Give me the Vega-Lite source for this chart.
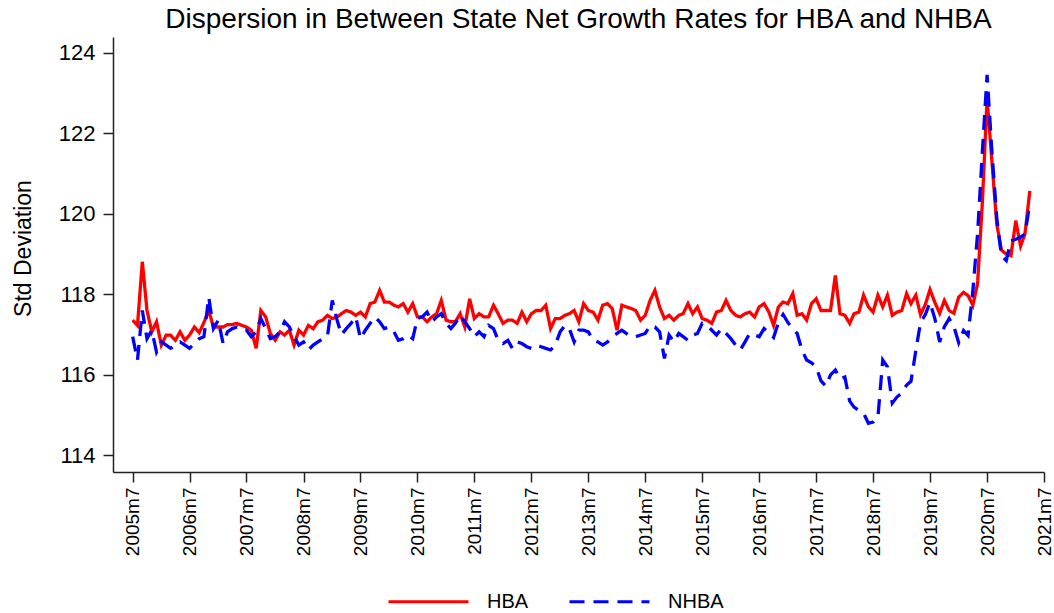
{
  "$schema": "https://vega.github.io/schema/vega-lite/v6.json",
  "width": 931,
  "height": 435,
  "autosize": {"type": "none"},
  "padding": {"left": 113, "top": 37, "right": 10, "bottom": 141},
  "background": "white",
  "config": {
    "font": "Liberation Sans",
    "view": {"stroke": null},
    "axis": {"grid": false, "domainColor": "#222", "tickColor": "#222", "domainWidth": 1.5, "tickWidth": 1.5, "labelColor": "black", "titleColor": "black"}
  },
  "title": {"text": "Dispersion in Between State Net Growth Rates for HBA and NHBA", "fontSize": 28, "fontWeight": "normal", "color": "black", "frame": "group", "anchor": "middle", "offset": 3},
  "data": {"values": [
    {"date":"2005-07","HBA":117.36,"NHBA":116.95},
    {"date":"2005-08","HBA":117.23,"NHBA":116.37},
    {"date":"2005-09","HBA":118.81,"NHBA":117.6},
    {"date":"2005-10","HBA":117.6,"NHBA":116.9},
    {"date":"2005-11","HBA":117.07,"NHBA":117.11},
    {"date":"2005-12","HBA":117.32,"NHBA":116.57},
    {"date":"2006-01","HBA":116.74,"NHBA":116.82},
    {"date":"2006-02","HBA":116.99,"NHBA":116.74},
    {"date":"2006-03","HBA":116.99,"NHBA":116.66},
    {"date":"2006-04","HBA":116.86,"NHBA":116.74},
    {"date":"2006-05","HBA":117.07,"NHBA":116.82},
    {"date":"2006-06","HBA":116.86,"NHBA":116.74},
    {"date":"2006-07","HBA":116.99,"NHBA":116.66},
    {"date":"2006-08","HBA":117.19,"NHBA":116.78},
    {"date":"2006-09","HBA":117.05,"NHBA":116.9},
    {"date":"2006-10","HBA":117.3,"NHBA":116.95},
    {"date":"2006-11","HBA":117.6,"NHBA":117.93},
    {"date":"2006-12","HBA":117.19,"NHBA":117.15},
    {"date":"2007-01","HBA":117.19,"NHBA":117.36},
    {"date":"2007-02","HBA":117.19,"NHBA":116.78},
    {"date":"2007-03","HBA":117.25,"NHBA":117.07},
    {"date":"2007-04","HBA":117.25,"NHBA":117.15},
    {"date":"2007-05","HBA":117.28,"NHBA":117.19},
    {"date":"2007-06","HBA":117.23,"NHBA":117.11},
    {"date":"2007-07","HBA":117.19,"NHBA":117.11},
    {"date":"2007-08","HBA":117.11,"NHBA":116.95},
    {"date":"2007-09","HBA":116.66,"NHBA":117.07},
    {"date":"2007-10","HBA":117.6,"NHBA":117.4},
    {"date":"2007-11","HBA":117.44,"NHBA":117.15},
    {"date":"2007-12","HBA":117.03,"NHBA":116.9},
    {"date":"2008-01","HBA":116.86,"NHBA":116.95},
    {"date":"2008-02","HBA":117.07,"NHBA":117.07},
    {"date":"2008-03","HBA":116.99,"NHBA":117.32},
    {"date":"2008-04","HBA":117.11,"NHBA":117.19},
    {"date":"2008-05","HBA":116.74,"NHBA":116.95},
    {"date":"2008-06","HBA":117.11,"NHBA":116.74},
    {"date":"2008-07","HBA":116.99,"NHBA":116.82},
    {"date":"2008-08","HBA":117.23,"NHBA":116.62},
    {"date":"2008-09","HBA":117.15,"NHBA":116.74},
    {"date":"2008-10","HBA":117.32,"NHBA":116.82},
    {"date":"2008-11","HBA":117.36,"NHBA":116.9},
    {"date":"2008-12","HBA":117.48,"NHBA":116.95},
    {"date":"2009-01","HBA":117.4,"NHBA":117.85},
    {"date":"2009-02","HBA":117.44,"NHBA":117.36},
    {"date":"2009-03","HBA":117.52,"NHBA":117.0},
    {"date":"2009-04","HBA":117.6,"NHBA":117.15},
    {"date":"2009-05","HBA":117.56,"NHBA":117.28},
    {"date":"2009-06","HBA":117.48,"NHBA":117.44},
    {"date":"2009-07","HBA":117.56,"NHBA":116.9},
    {"date":"2009-08","HBA":117.44,"NHBA":117.11},
    {"date":"2009-09","HBA":117.77,"NHBA":117.28},
    {"date":"2009-10","HBA":117.81,"NHBA":117.44},
    {"date":"2009-11","HBA":118.1,"NHBA":117.32},
    {"date":"2009-12","HBA":117.81,"NHBA":117.15},
    {"date":"2010-01","HBA":117.81,"NHBA":117.19},
    {"date":"2010-02","HBA":117.73,"NHBA":117.07},
    {"date":"2010-03","HBA":117.69,"NHBA":116.86},
    {"date":"2010-04","HBA":117.77,"NHBA":116.9},
    {"date":"2010-05","HBA":117.56,"NHBA":116.99},
    {"date":"2010-06","HBA":117.77,"NHBA":116.9},
    {"date":"2010-07","HBA":117.44,"NHBA":117.4},
    {"date":"2010-08","HBA":117.44,"NHBA":117.44},
    {"date":"2010-09","HBA":117.32,"NHBA":117.56},
    {"date":"2010-10","HBA":117.44,"NHBA":117.32},
    {"date":"2010-11","HBA":117.52,"NHBA":117.44},
    {"date":"2010-12","HBA":117.85,"NHBA":117.52},
    {"date":"2011-01","HBA":117.36,"NHBA":117.28},
    {"date":"2011-02","HBA":117.32,"NHBA":117.15},
    {"date":"2011-03","HBA":117.32,"NHBA":117.28},
    {"date":"2011-04","HBA":117.52,"NHBA":117.48},
    {"date":"2011-05","HBA":117.19,"NHBA":117.32},
    {"date":"2011-06","HBA":117.89,"NHBA":117.15},
    {"date":"2011-07","HBA":117.4,"NHBA":116.95},
    {"date":"2011-08","HBA":117.52,"NHBA":117.07},
    {"date":"2011-09","HBA":117.44,"NHBA":116.95},
    {"date":"2011-10","HBA":117.44,"NHBA":117.23},
    {"date":"2011-11","HBA":117.73,"NHBA":117.15},
    {"date":"2011-12","HBA":117.52,"NHBA":116.86},
    {"date":"2012-01","HBA":117.28,"NHBA":116.78},
    {"date":"2012-02","HBA":117.36,"NHBA":116.86},
    {"date":"2012-03","HBA":117.36,"NHBA":116.66},
    {"date":"2012-04","HBA":117.28,"NHBA":116.82},
    {"date":"2012-05","HBA":117.56,"NHBA":116.78},
    {"date":"2012-06","HBA":117.32,"NHBA":116.7},
    {"date":"2012-07","HBA":117.52,"NHBA":116.66},
    {"date":"2012-08","HBA":117.6,"NHBA":116.74},
    {"date":"2012-09","HBA":117.6,"NHBA":116.7},
    {"date":"2012-10","HBA":117.73,"NHBA":116.66},
    {"date":"2012-11","HBA":117.15,"NHBA":116.62},
    {"date":"2012-12","HBA":117.4,"NHBA":116.74},
    {"date":"2013-01","HBA":117.4,"NHBA":117.07},
    {"date":"2013-02","HBA":117.48,"NHBA":117.23},
    {"date":"2013-03","HBA":117.52,"NHBA":117.15},
    {"date":"2013-04","HBA":117.6,"NHBA":116.82},
    {"date":"2013-05","HBA":117.32,"NHBA":117.11},
    {"date":"2013-06","HBA":117.77,"NHBA":117.11},
    {"date":"2013-07","HBA":117.6,"NHBA":117.07},
    {"date":"2013-08","HBA":117.56,"NHBA":116.86},
    {"date":"2013-09","HBA":117.36,"NHBA":116.82},
    {"date":"2013-10","HBA":117.73,"NHBA":116.74},
    {"date":"2013-11","HBA":117.77,"NHBA":116.82},
    {"date":"2013-12","HBA":117.65,"NHBA":116.95},
    {"date":"2014-01","HBA":117.11,"NHBA":117.03},
    {"date":"2014-02","HBA":117.73,"NHBA":117.11},
    {"date":"2014-03","HBA":117.69,"NHBA":117.03},
    {"date":"2014-04","HBA":117.65,"NHBA":116.95},
    {"date":"2014-05","HBA":117.6,"NHBA":116.95},
    {"date":"2014-06","HBA":117.36,"NHBA":116.99},
    {"date":"2014-07","HBA":117.48,"NHBA":117.03},
    {"date":"2014-08","HBA":117.85,"NHBA":117.23},
    {"date":"2014-09","HBA":118.1,"NHBA":117.19},
    {"date":"2014-10","HBA":117.69,"NHBA":117.07},
    {"date":"2014-11","HBA":117.4,"NHBA":116.41},
    {"date":"2014-12","HBA":117.48,"NHBA":116.99},
    {"date":"2015-01","HBA":117.36,"NHBA":116.82},
    {"date":"2015-02","HBA":117.48,"NHBA":117.03},
    {"date":"2015-03","HBA":117.52,"NHBA":116.95},
    {"date":"2015-04","HBA":117.77,"NHBA":116.86},
    {"date":"2015-05","HBA":117.52,"NHBA":116.99},
    {"date":"2015-06","HBA":117.69,"NHBA":117.03},
    {"date":"2015-07","HBA":117.4,"NHBA":117.28},
    {"date":"2015-08","HBA":117.36,"NHBA":117.23},
    {"date":"2015-09","HBA":117.28,"NHBA":117.11},
    {"date":"2015-10","HBA":117.56,"NHBA":116.99},
    {"date":"2015-11","HBA":117.6,"NHBA":117.15},
    {"date":"2015-12","HBA":117.85,"NHBA":117.03},
    {"date":"2016-01","HBA":117.6,"NHBA":116.9},
    {"date":"2016-02","HBA":117.48,"NHBA":116.74},
    {"date":"2016-03","HBA":117.44,"NHBA":116.62},
    {"date":"2016-04","HBA":117.52,"NHBA":116.82},
    {"date":"2016-05","HBA":117.56,"NHBA":117.03},
    {"date":"2016-06","HBA":117.44,"NHBA":116.99},
    {"date":"2016-07","HBA":117.69,"NHBA":116.95},
    {"date":"2016-08","HBA":117.77,"NHBA":117.15},
    {"date":"2016-09","HBA":117.56,"NHBA":117.05},
    {"date":"2016-10","HBA":117.23,"NHBA":116.93},
    {"date":"2016-11","HBA":117.69,"NHBA":117.3},
    {"date":"2016-12","HBA":117.81,"NHBA":117.5},
    {"date":"2017-01","HBA":117.77,"NHBA":117.3},
    {"date":"2017-02","HBA":118.02,"NHBA":117.15},
    {"date":"2017-03","HBA":117.48,"NHBA":117.03},
    {"date":"2017-04","HBA":117.52,"NHBA":116.62},
    {"date":"2017-05","HBA":117.36,"NHBA":116.37},
    {"date":"2017-06","HBA":117.77,"NHBA":116.3},
    {"date":"2017-07","HBA":117.89,"NHBA":116.2},
    {"date":"2017-08","HBA":117.6,"NHBA":115.85},
    {"date":"2017-09","HBA":117.6,"NHBA":115.72},
    {"date":"2017-10","HBA":117.6,"NHBA":116.0},
    {"date":"2017-11","HBA":118.47,"NHBA":116.12},
    {"date":"2017-12","HBA":117.52,"NHBA":115.9},
    {"date":"2018-01","HBA":117.48,"NHBA":115.95},
    {"date":"2018-02","HBA":117.28,"NHBA":115.35},
    {"date":"2018-03","HBA":117.52,"NHBA":115.2},
    {"date":"2018-04","HBA":117.56,"NHBA":115.12},
    {"date":"2018-05","HBA":117.98,"NHBA":115.05},
    {"date":"2018-06","HBA":117.69,"NHBA":114.8},
    {"date":"2018-07","HBA":117.56,"NHBA":114.83},
    {"date":"2018-08","HBA":117.98,"NHBA":114.95},
    {"date":"2018-09","HBA":117.69,"NHBA":116.37},
    {"date":"2018-10","HBA":117.98,"NHBA":116.2},
    {"date":"2018-11","HBA":117.48,"NHBA":115.3},
    {"date":"2018-12","HBA":117.56,"NHBA":115.45},
    {"date":"2019-01","HBA":117.6,"NHBA":115.55},
    {"date":"2019-02","HBA":118.02,"NHBA":115.75},
    {"date":"2019-03","HBA":117.77,"NHBA":115.84},
    {"date":"2019-04","HBA":117.98,"NHBA":116.6},
    {"date":"2019-05","HBA":117.5,"NHBA":117.3},
    {"date":"2019-06","HBA":117.75,"NHBA":117.5},
    {"date":"2019-07","HBA":118.12,"NHBA":117.8},
    {"date":"2019-08","HBA":117.8,"NHBA":117.4},
    {"date":"2019-09","HBA":117.53,"NHBA":116.82},
    {"date":"2019-10","HBA":117.85,"NHBA":117.2},
    {"date":"2019-11","HBA":117.6,"NHBA":117.4},
    {"date":"2019-12","HBA":117.53,"NHBA":117.2},
    {"date":"2020-01","HBA":117.93,"NHBA":116.8},
    {"date":"2020-02","HBA":118.05,"NHBA":117.1},
    {"date":"2020-03","HBA":117.97,"NHBA":116.98},
    {"date":"2020-04","HBA":117.73,"NHBA":118.1},
    {"date":"2020-05","HBA":118.27,"NHBA":119.5},
    {"date":"2020-06","HBA":120.3,"NHBA":121.55},
    {"date":"2020-07","HBA":122.87,"NHBA":123.45},
    {"date":"2020-08","HBA":121.3,"NHBA":121.55},
    {"date":"2020-09","HBA":119.75,"NHBA":119.9},
    {"date":"2020-10","HBA":119.1,"NHBA":118.96},
    {"date":"2020-11","HBA":119.0,"NHBA":118.84},
    {"date":"2020-12","HBA":118.96,"NHBA":119.33},
    {"date":"2021-01","HBA":119.83,"NHBA":119.37},
    {"date":"2021-02","HBA":119.2,"NHBA":119.42},
    {"date":"2021-03","HBA":119.5,"NHBA":119.5},
    {"date":"2021-04","HBA":120.57,"NHBA":120.25}
  ]},
  "transform": [{"fold": ["HBA", "NHBA"], "as": ["series", "value"]}],
  "mark": {"type": "line", "strokeWidth": 3.3, "interpolate": "linear"},
  "encoding": {
    "x": {
      "field": "date", "type": "temporal",
      "scale": {"type": "utc", "domain": [{"year": 2005, "month": 2, "date": 25, "utc": true}, {"year": 2021, "month": 7, "date": 1, "utc": true}]},
      "axis": {
        "title": null,
        "values": [
          {"year": 2005, "month": 7, "utc": true}, {"year": 2006, "month": 7, "utc": true}, {"year": 2007, "month": 7, "utc": true},
          {"year": 2008, "month": 7, "utc": true}, {"year": 2009, "month": 7, "utc": true}, {"year": 2010, "month": 7, "utc": true},
          {"year": 2011, "month": 7, "utc": true}, {"year": 2012, "month": 7, "utc": true}, {"year": 2013, "month": 7, "utc": true},
          {"year": 2014, "month": 7, "utc": true}, {"year": 2015, "month": 7, "utc": true}, {"year": 2016, "month": 7, "utc": true},
          {"year": 2017, "month": 7, "utc": true}, {"year": 2018, "month": 7, "utc": true}, {"year": 2019, "month": 7, "utc": true},
          {"year": 2020, "month": 7, "utc": true}, {"year": 2021, "month": 7, "utc": true}
        ],
        "labelExpr": "utcFormat(datum.value, '%Y') + 'm' + (utcmonth(datum.value) + 1)",
        "labelAngle": 270,
        "labelFontSize": 19,
        "labelPadding": 5,
        "tickSize": 10,
        "labelOverlap": false,
        "labelFlush": false
      }
    },
    "y": {
      "field": "value", "type": "quantitative",
      "scale": {"domain": [113.59, 124.39], "nice": false, "zero": false},
      "axis": {
        "title": "Std Deviation",
        "titleFontSize": 23,
        "titleFontWeight": "normal",
        "titleX": -90,
        "titleY": 211,
        "titleAngle": 270,
        "titleBaseline": "middle",
        "titleAlign": "center",
        "values": [114, 116, 118, 120, 122, 124],
        "labelFontSize": 22,
        "labelPadding": 8,
        "tickSize": 10,
        "labelFlush": false
      }
    },
    "color": {
      "field": "series", "type": "nominal",
      "scale": {"domain": ["HBA", "NHBA"], "range": ["#ff0000", "#0000ff"]},
      "legend": {
        "title": null, "orient": "none", "legendX": 274, "legendY": 523, "direction": "horizontal",
        "symbolType": "stroke", "symbolSize": 6400, "symbolStrokeWidth": 3,
        "labelFontSize": 20, "labelOffset": 17, "columnPadding": 34, "labelColor": "black"
      }
    },
    "strokeDash": {
      "field": "series", "type": "nominal",
      "scale": {"domain": ["HBA", "NHBA"], "range": [[1, 0], [15, 9]]},
      "legend": {
        "title": null, "orient": "none", "legendX": 274, "legendY": 523, "direction": "horizontal",
        "symbolType": "stroke", "symbolSize": 6400, "symbolStrokeWidth": 3,
        "labelFontSize": 20, "labelOffset": 17, "columnPadding": 34, "labelColor": "black"
      }
    }
  }
}
